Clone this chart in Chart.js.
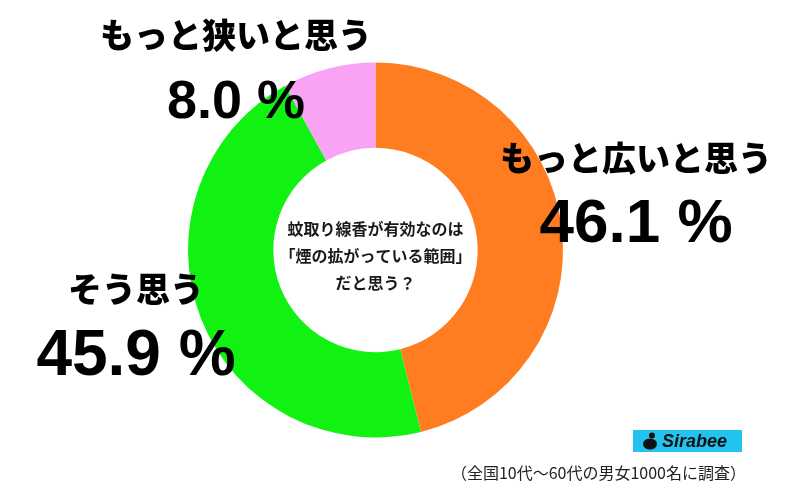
<!DOCTYPE html>
<html>
<head>
<meta charset="utf-8">
<script src="https://cdn.jsdelivr.net/npm/chart.js@4"></script>
<style>
  html, body { margin: 0; padding: 0; background: #fff; }
  #wrap { width: 798px; height: 496px; }
</style>
</head>
<body>
<div id="wrap"><canvas id="donut" width="798" height="496"></canvas></div>
<script>
// data
const answers = ['もっと広いと思う', 'そう思う', 'もっと狭いと思う'];
const percents = [46.1, 45.9, 8.0];
const sliceColors = ['#ff7c20', '#12f212', '#f9a3f5'];
const question = ['蚊取り線香が有効なのは', '「煙の拡がっている範囲」', 'だと思う？'];
const footnote = '（全国10代～60代の男女1000名に調査）';

// where each answer label sits (name centre y, percent baseline, centre x, percent size)
const labelSpots = [
  { x: 636, nameY: 158, pctY: 242, pctSize: 62 },
  { x: 136, nameY: 289, pctY: 375, pctSize: 64 },
  { x: 236, nameY: 35, pctY: 118, pctSize: 54 }
];

const JP = "'Noto Sans CJK JP', 'Noto Sans', sans-serif";

const labelsPlugin = {
  id: 'labels',
  afterDraw(chart) {
    const c = chart.ctx;
    c.save();
    c.fillStyle = '#000';
    c.textAlign = 'center';

    // answer names + percentages
    answers.forEach((name, i) => {
      const s = labelSpots[i];
      c.font = `900 34px ${JP}`;
      c.textBaseline = 'middle';
      c.fillText(name, s.x, s.nameY);
      c.font = `bold ${s.pctSize}px 'Liberation Sans', Arial, ${JP}`;
      c.textBaseline = 'alphabetic';
      c.fillText(percents[i].toFixed(1) + ' %', s.x, s.pctY);
    });

    // question in the hole
    const m = chart.getDatasetMeta(0).data[0];
    c.font = `700 16px ${JP}`;
    c.fillStyle = '#1a1a1a';
    c.textBaseline = 'middle';
    question.forEach((line, i) => {
      c.fillText(line, m.x, m.y - 21 + i * 27);
    });

    // logo box
    c.fillStyle = '#22c3ee';
    c.fillRect(633, 430, 109, 22);
    c.fillStyle = '#111';
    c.beginPath();
    c.ellipse(650, 444, 7, 5.5, 0, 0, Math.PI * 2);
    c.fill();
    c.beginPath();
    c.arc(652, 435.5, 3, 0, Math.PI * 2);
    c.fill();
    c.font = "italic bold 18px 'Liberation Sans', Arial, sans-serif";
    c.textAlign = 'left';
    c.fillText('Sirabee', 662, 442);

    // footnote
    c.fillStyle = '#222';
    c.font = `400 16px ${JP}`;
    c.textAlign = 'right';
    c.fillText(footnote, 746, 473);
    c.restore();
  }
};

new Chart(document.getElementById('donut'), {
  type: 'doughnut',
  data: {
    labels: answers,
    datasets: [{
      data: percents,
      backgroundColor: sliceColors,
      borderWidth: 0
    }]
  },
  options: {
    responsive: false,
    animation: false,
    cutout: '54.5%',
    layout: { padding: { left: 188, right: 235, top: 62, bottom: 58 } },
    plugins: {
      legend: { display: false },
      tooltip: { enabled: false }
    }
  },
  plugins: [labelsPlugin]
});
</script>
</body>
</html>
